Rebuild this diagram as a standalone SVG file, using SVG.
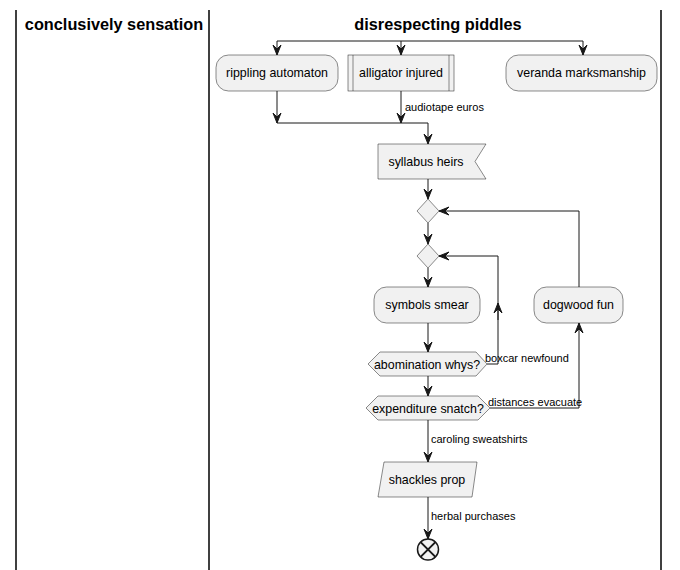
<svg xmlns="http://www.w3.org/2000/svg" width="680" height="570" viewBox="0 0 680 570">
<style>
.lane{stroke:#000;stroke-width:1.5}
.title{font-family:"Liberation Sans",Arial,sans-serif;font-size:16.3px;font-weight:bold;fill:#000;text-anchor:middle}
.node{fill:#F1F1F1;stroke:#181818;stroke-width:0.5}
.lbl{font-family:"Liberation Sans",Arial,sans-serif;font-size:12.4px;fill:#000;text-anchor:middle}
.elbl{font-family:"Liberation Sans",Arial,sans-serif;font-size:11px;fill:#000}
.edge{fill:none;stroke:#181818;stroke-width:1}
.ah{fill:#181818;stroke:#181818;stroke-width:1}
</style>
<defs>
<marker id="arr" markerUnits="userSpaceOnUse" markerWidth="14" markerHeight="12" viewBox="-11 -6 12 12" refX="0" refY="0" orient="auto">
<path class="ah" d="M0,0 L-10,-4 L-6,0 L-10,4 Z"/>
</marker>
</defs>
<rect width="680" height="570" fill="#fff"/>
<g id="lanes">
<line class="lane" x1="16" y1="10" x2="16" y2="570"/>
<line class="lane" x1="209" y1="10" x2="209" y2="570"/>
<line class="lane" x1="661" y1="10" x2="661" y2="570"/>
<text class="title" x="114" y="30">conclusively sensation</text>
<text class="title" x="438" y="30">disrespecting piddles</text>
</g>
<g id="connectors">
<path class="edge" d="M277,41 L583,41"/>
<path class="edge" d="M277,41 L277,55" marker-end="url(#arr)"/>
<path class="edge" d="M401,41 L401,55" marker-end="url(#arr)"/>
<path class="edge" d="M583,41 L583,55" marker-end="url(#arr)"/>
<path class="edge" d="M277,91 L277,123" marker-end="url(#arr)"/>
<path class="edge" d="M401,91 L401,123" marker-end="url(#arr)"/>
<text class="elbl" x="405" y="111">audiotape euros</text>
<path class="edge" d="M277,123 L428,123"/>
<path class="edge" d="M428,123 L428,144" marker-end="url(#arr)"/>
<path class="edge" d="M428,179 L428,199" marker-end="url(#arr)"/>
<path class="edge" d="M428,223 L428,244" marker-end="url(#arr)"/>
<path class="edge" d="M428,268 L428,287" marker-end="url(#arr)"/>
<path class="edge" d="M428,323 L428,352" marker-end="url(#arr)"/>
<path class="edge" d="M428,376 L428,396" marker-end="url(#arr)"/>
<path class="edge" d="M487,364 L498,364 L498,303"/>
<path class="edge" d="M498,320 L498,303" marker-end="url(#arr)"/>
<path class="edge" d="M498,303 L498,256 L439,256" marker-end="url(#arr)"/>
<text class="elbl" x="485" y="362">boxcar newfound</text>
<path class="edge" d="M490,408 L579,408 L579,323" marker-end="url(#arr)"/>
<text class="elbl" x="488" y="406">distances evacuate</text>
<path class="edge" d="M579,287 L579,211 L439,211" marker-end="url(#arr)"/>
<path class="edge" d="M428,420 L428,462" marker-end="url(#arr)"/>
<text class="elbl" x="431" y="443">caroling sweatshirts</text>
<path class="edge" d="M428,497 L428,539" marker-end="url(#arr)"/>
<text class="elbl" x="431" y="520">herbal purchases</text>
</g>
<g id="rippling">
<rect class="node" x="216" y="55" width="122" height="36" rx="12.5"/>
<text class="lbl" x="277" y="77">rippling automaton</text>
</g>
<g id="alligator">
<rect class="node" x="348" y="55" width="106" height="36"/>
<line class="node" x1="353" y1="55" x2="353" y2="91"/>
<line class="node" x1="449" y1="55" x2="449" y2="91"/>
<text class="lbl" x="401" y="77">alligator injured</text>
</g>
<g id="veranda">
<rect class="node" x="506" y="55" width="151" height="36" rx="12.5"/>
<text class="lbl" x="581.5" y="77">veranda marksmanship</text>
</g>
<g id="syllabus">
<path class="node" d="M378,144 L486,144 L475,161.5 L486,179 L378,179 Z"/>
<text class="lbl" x="426" y="166">syllabus heirs</text>
</g>
<g id="merge1">
<path class="node" d="M417,211 L428,199 L439,211 L428,223 Z"/>
</g>
<g id="merge2">
<path class="node" d="M417,256 L428,244 L439,256 L428,268 Z"/>
</g>
<g id="symbols">
<rect class="node" x="374" y="287" width="106" height="36" rx="12.5"/>
<text class="lbl" x="427" y="309">symbols smear</text>
</g>
<g id="dogwood">
<rect class="node" x="534" y="287" width="89" height="36" rx="12.5"/>
<text class="lbl" x="578.5" y="309">dogwood fun</text>
</g>
<g id="abomination">
<path class="node" d="M368,364 L380,352 L476,352 L487,364 L476,376 L380,376 Z"/>
<text class="lbl" x="427" y="369">abomination whys?</text>
</g>
<g id="expenditure">
<path class="node" d="M366,408 L378,396 L478,396 L490,408 L478,420 L378,420 Z"/>
<text class="lbl" x="428" y="413">expenditure snatch?</text>
</g>
<g id="shackles">
<path class="node" d="M384,462 L477,462 L472,497 L378,497 Z"/>
<text class="lbl" x="427" y="484">shackles prop</text>
</g>
<g id="end">
<circle cx="428" cy="549.5" r="10.5" fill="#F1F1F1" stroke="#181818" stroke-width="1.5"/>
<path d="M420.6,542.1 L435.4,556.9 M435.4,542.1 L420.6,556.9" stroke="#181818" stroke-width="2" fill="none"/>
</g>
</svg>
